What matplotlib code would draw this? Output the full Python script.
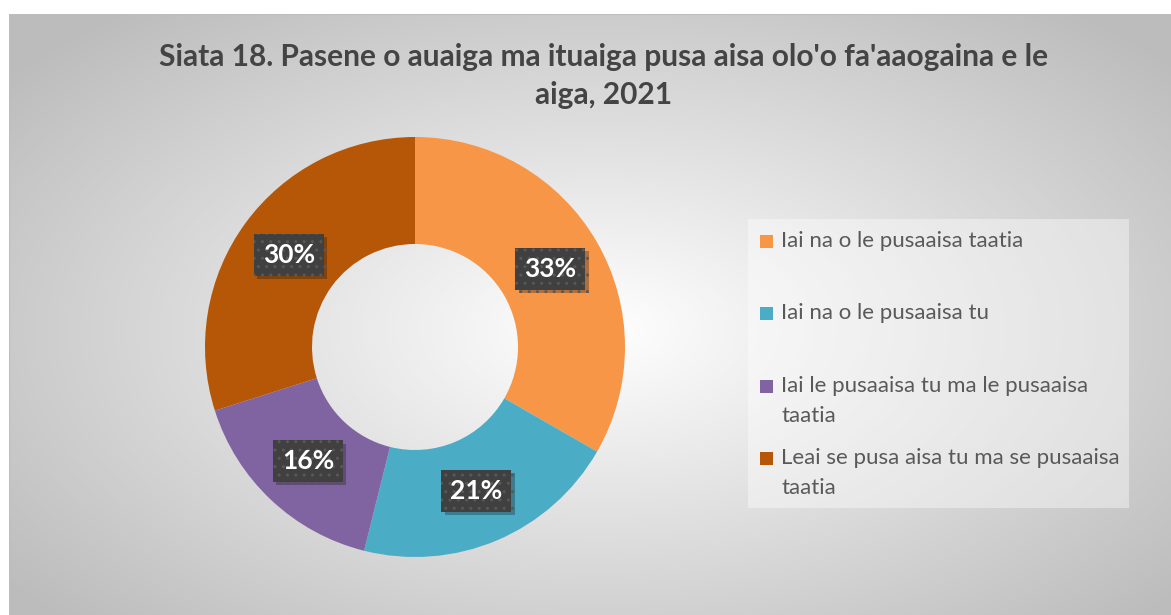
import numpy as np
import matplotlib
matplotlib.use("Agg")
import matplotlib.pyplot as plt
from matplotlib.patches import Rectangle
import matplotlib.patheffects as pe

# ---- data ----
categories = [
    "Iai na o le pusaaisa taatia",
    "Iai na o le pusaaisa tu",
    "Iai le pusaaisa tu ma le pusaaisa\ntaatia",
    "Leai se pusa aisa tu ma se pusaaisa\ntaatia",
]
values = [33.3, 20.6, 16.2, 29.9]
colors = ["#F79646", "#4BACC6", "#8064A2", "#B65708"]
title = "Siata 18. Pasene o auaiga ma ituaiga pusa aisa olo'o fa'aaogaina e le\naiga, 2021"

W, H = 1171, 615
fig = plt.figure(figsize=(W / 100, H / 100), dpi=100)
fig.patch.set_facecolor("white")

def px(x, y):
    return x / W, 1 - y / H

# ---- background frame with radial gradient ----
bx0, by0 = 9, 14
bg = fig.add_axes([bx0 / W, 0, (W - bx0) / W, (H - by0) / H])
bg.set_axis_off()
gx = np.linspace(bx0, W, 400)
gy = np.linspace(by0, H, 220)
X, Y = np.meshgrid(gx, gy)
cx, cy = 600, 330
r = np.sqrt(((X - cx) / 600) ** 2 + ((Y - cy) / 330) ** 2)
v = 1.0 - 0.26 * np.clip(r, 0, 1.25) / 1.25
img = np.dstack([v, v, v])
bg.imshow(img, extent=[0, 1, 0, 1], aspect="auto", origin="upper")
bg.set_xlim(0, 1)
bg.set_ylim(0, 1)
bg.plot([0, 1], [1, 1], color="#bdbdbd", lw=1.5)
bg.plot([0, 0], [0, 1], color="#bdbdbd", lw=1.5)

# ---- title ----
fig.text(*px(604, 76), title, ha="center", va="center", fontsize=21.5,
         fontweight="bold", color="#444444", family="Lato", linespacing=1.45)

# ---- donut ----
ccx, ccy, S = 415, 347, 215
ax = fig.add_axes([(ccx - S) / W, (H - ccy - S) / H, 2 * S / W, 2 * S / H])
R = 210 / S
wedges, texts, autotexts = ax.pie(
    values, colors=colors, startangle=90, counterclock=False, radius=R,
    wedgeprops=dict(width=(210 - 103) / S, linewidth=0),
    autopct=lambda p: f"{p:.0f}%", pctdistance=0.745,
)
ax.set_xlim(-1, 1)
ax.set_ylim(-1, 1)
ax.set_aspect("equal")
ax.set_axis_off()
for t in autotexts:
    t.set_color("white")
    t.set_fontsize(19)
    t.set_fontweight("bold")
    t.set_family("Lato")
    t.set_bbox(dict(boxstyle="square,pad=0.34", facecolor="#404040",
                    edgecolor="#585858", hatch="..", linewidth=0))
    t.get_bbox_patch().set_path_effects(
        [pe.SimplePatchShadow(offset=(2.5, -2.5), alpha=0.3), pe.Normal()])

# ---- legend (manual) ----
lx0, ly0, lx1, ly1 = 748, 219, 1129, 508
fig.patches.append(Rectangle(px(lx0, ly1), (lx1 - lx0) / W, (ly1 - ly0) / H,
                             transform=fig.transFigure, facecolor="white",
                             alpha=0.4, edgecolor="none", zorder=1))
entry_y = [241, 313, 386, 458]
line_gap = 29.5
for lab, col, yy in zip(categories, colors, entry_y):
    fig.patches.append(Rectangle(px(760, yy + 6.5), 13 / W, 13 / H,
                                 transform=fig.transFigure, facecolor=col,
                                 edgecolor="none", zorder=3))
    for i, line in enumerate(lab.split("\n")):
        fig.text(*px(781, yy + i * line_gap), line, ha="left", va="center",
                 fontsize=16, color="#595959", family="Lato", zorder=3)

fig.savefig("out.png", dpi=100)
